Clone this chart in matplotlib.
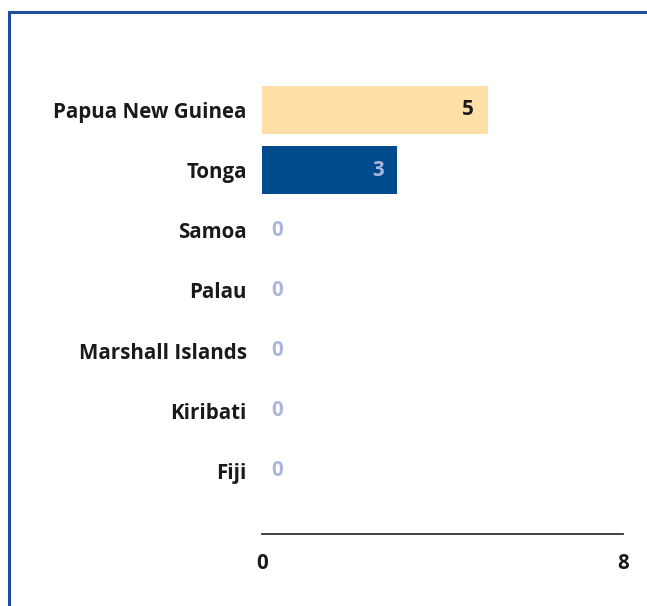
import matplotlib
matplotlib.use("Agg")
import matplotlib.pyplot as plt

countries = ["Papua New Guinea", "Tonga", "Samoa", "Palau", "Marshall Islands", "Kiribati", "Fiji"]
values = [5, 3, 0, 0, 0, 0, 0]
bar_colors = ["#FFDFA8", "#004B8D", "#004B8D", "#004B8D", "#004B8D", "#004B8D", "#004B8D"]
x_ticks = [0, 8]

W, H = 647, 606
fig = plt.figure(figsize=(W / 100, H / 100), dpi=100)
plt.rcParams['font.family'] = ['Open Sans', 'DejaVu Sans']
FS = 14.8

# outer frame (blue border top and left)
fig.add_artist(plt.Line2D([9 / W, 9 / W], [0, 1 - 12 / H], color="#1F4E99", lw=2.2, transform=fig.transFigure))
fig.add_artist(plt.Line2D([9 / W, 1], [1 - 12 / H, 1 - 12 / H], color="#1F4E99", lw=2.2, transform=fig.transFigure))

left, right, bottom, top = 262, 623, 534, 63
ax = fig.add_axes([left / W, 1 - bottom / H, (right - left) / W, (bottom - top) / H])
ypos = list(range(len(countries)))
ax.barh(ypos, values, height=0.8, color=bar_colors)
ax.set_xlim(0, 8)
ax.set_ylim(7.05, -0.78)
ax.set_yticks(ypos)
ax.set_yticklabels(countries, fontsize=FS, fontweight="bold", color="#1a1a1a")
ax.set_xticks(x_ticks)
ax.set_xticklabels([str(t) for t in x_ticks], fontsize=FS, fontweight="bold", color="#1a1a1a")
ax.tick_params(axis="y", length=0, pad=11)
ax.tick_params(axis="x", length=0, pad=14)
for s in ["top", "right", "left"]:
    ax.spines[s].set_visible(False)
ax.spines["bottom"].set_color("#333333")
ax.spines["bottom"].set_linewidth(1.3)

for y, v in zip(ypos, values):
    if v == 0:
        ax.text(0.2, y, "0", ha="left", va="center", fontsize=FS, fontweight="bold", color="#A9B8DA")
    elif v == 5:
        ax.text(v - 0.3, y, str(v), ha="right", va="center", fontsize=FS, fontweight="bold", color="#1a1a1a")
    else:
        ax.text(v - 0.3, y, str(v), ha="right", va="center", fontsize=FS, fontweight="bold", color="#A9B8DA")

fig.savefig("out.png", dpi=100)
